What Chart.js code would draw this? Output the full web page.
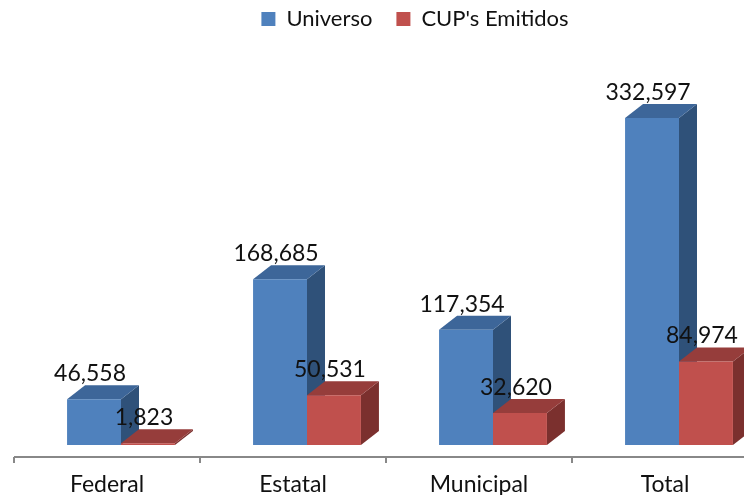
<!DOCTYPE html>
<html>
<head>
<meta charset="utf-8">
<script src="https://cdn.jsdelivr.net/npm/chart.js@4.4.0/dist/chart.umd.min.js"></script>
<style>
  html, body { margin: 0; padding: 0; background: #fff; overflow: hidden; }
  canvas { display: block; }
</style>
</head>
<body>
<canvas id="cupChart" width="780" height="495"></canvas>
<script>
// Datos del gráfico
const categories = ['Federal', 'Estatal', 'Municipal', 'Total'];
const universo = [46558, 168685, 117354, 332597];
const cupEmitidos = [1823, 50531, 32620, 84974];
const seriesNames = ['Universo', "CUP's Emitidos"];

// colores de las caras (frente, arriba, lado)
const blueFaces = ['#4F81BD', '#3D6699', '#2F5179'];
const redFaces = ['#C0504D', '#963D3B', '#7B302E'];

const DX = 18, DY = 14;   // profundidad 3D
const SHIFT = 14;         // desplazamiento del piso
const FONT = 'Lato, "Liberation Sans", sans-serif';

// caras laterales y superiores (antes de las barras)
const bars3d = {
  id: 'bars3d',
  beforeDatasetsDraw(chart) {
    const ctx = chart.ctx;
    chart.data.datasets.forEach((ds, di) => {
      const faces = di === 0 ? blueFaces : redFaces;
      chart.getDatasetMeta(di).data.forEach(bar => {
        const l = bar.x - bar.width / 2, r = bar.x + bar.width / 2;
        const t = bar.y, b = bar.base;
        ctx.save();
        // lado derecho
        ctx.fillStyle = faces[2];
        ctx.beginPath();
        ctx.moveTo(r, t); ctx.lineTo(r + DX, t - DY);
        ctx.lineTo(r + DX, b - DY); ctx.lineTo(r, b);
        ctx.closePath(); ctx.fill();
        // arriba
        ctx.fillStyle = faces[1];
        ctx.beginPath();
        ctx.moveTo(l, t); ctx.lineTo(l + DX, t - DY);
        ctx.lineTo(r + DX, t - DY); ctx.lineTo(r, t);
        ctx.closePath(); ctx.fill();
        ctx.restore();
      });
    });
  },
  afterDatasetsDraw(chart) {
    const ctx = chart.ctx;
    const area = chart.chartArea;
    const x = chart.scales.x;
    // eje horizontal con marcas
    const w = x.getPixelForValue(1) - x.getPixelForValue(0);
    const yAxis = area.bottom + 12;
    ctx.save();
    ctx.strokeStyle = '#888888';
    ctx.lineWidth = 2;
    ctx.beginPath();
    ctx.moveTo(area.left - SHIFT, yAxis);
    ctx.lineTo(area.right, yAxis);
    for (let i = 0; i <= categories.length; i++) {
      const px = Math.round(area.left + i * w - SHIFT);
      ctx.moveTo(px, yAxis);
      ctx.lineTo(px, yAxis + 6);
    }
    ctx.stroke();
    // etiquetas de valores
    ctx.fillStyle = '#111';
    ctx.font = '23px ' + FONT;
    ctx.textAlign = 'center';
    ctx.textBaseline = 'alphabetic';
    chart.data.datasets.forEach((ds, di) => {
      chart.getDatasetMeta(di).data.forEach((bar, i) => {
        const txt = ds.data[i].toLocaleString('en-US');
        ctx.fillText(txt, bar.x - 4, bar.y - DY - 4);
      });
    });
    ctx.restore();
  },
  afterLayout(chart) {
    // mover la leyenda un poco a la derecha
    chart.legend.left += 15;
    chart.legend.right += 15;
  }
};

const data = {
  labels: categories,
  datasets: [
    { label: seriesNames[0], data: universo, backgroundColor: blueFaces[0] },
    { label: seriesNames[1], data: cupEmitidos, backgroundColor: redFaces[0] }
  ]
};

const config = {
  type: 'bar',
  data: data,
  options: {
    responsive: false,
    animation: false,
    layout: { padding: { left: 28, right: 8, top: -16, bottom: -29 } },
    datasets: {
      bar: { categoryPercentage: 0.58, barPercentage: 1.0 }
    },
    plugins: {
      legend: {
        position: 'top',
        labels: {
          font: { size: 22, family: FONT },
          color: '#111',
          boxWidth: 14,
          boxHeight: 14,
          padding: 24
        }
      },
      tooltip: { enabled: false }
    },
    scales: {
      x: {
        grid: { display: false, drawTicks: false },
        border: { display: false },
        ticks: {
          color: '#111',
          font: { size: 23, family: FONT, lineHeight: 1 },
          padding: 28,
          labelOffset: -SHIFT,
          maxRotation: 0
        }
      },
      y: {
        display: false,
        min: 0,
        max: 412000
      }
    }
  },
  plugins: [bars3d]
};

const ctx = document.getElementById('cupChart').getContext('2d');
new Chart(ctx, config);
</script>
</body>
</html>
